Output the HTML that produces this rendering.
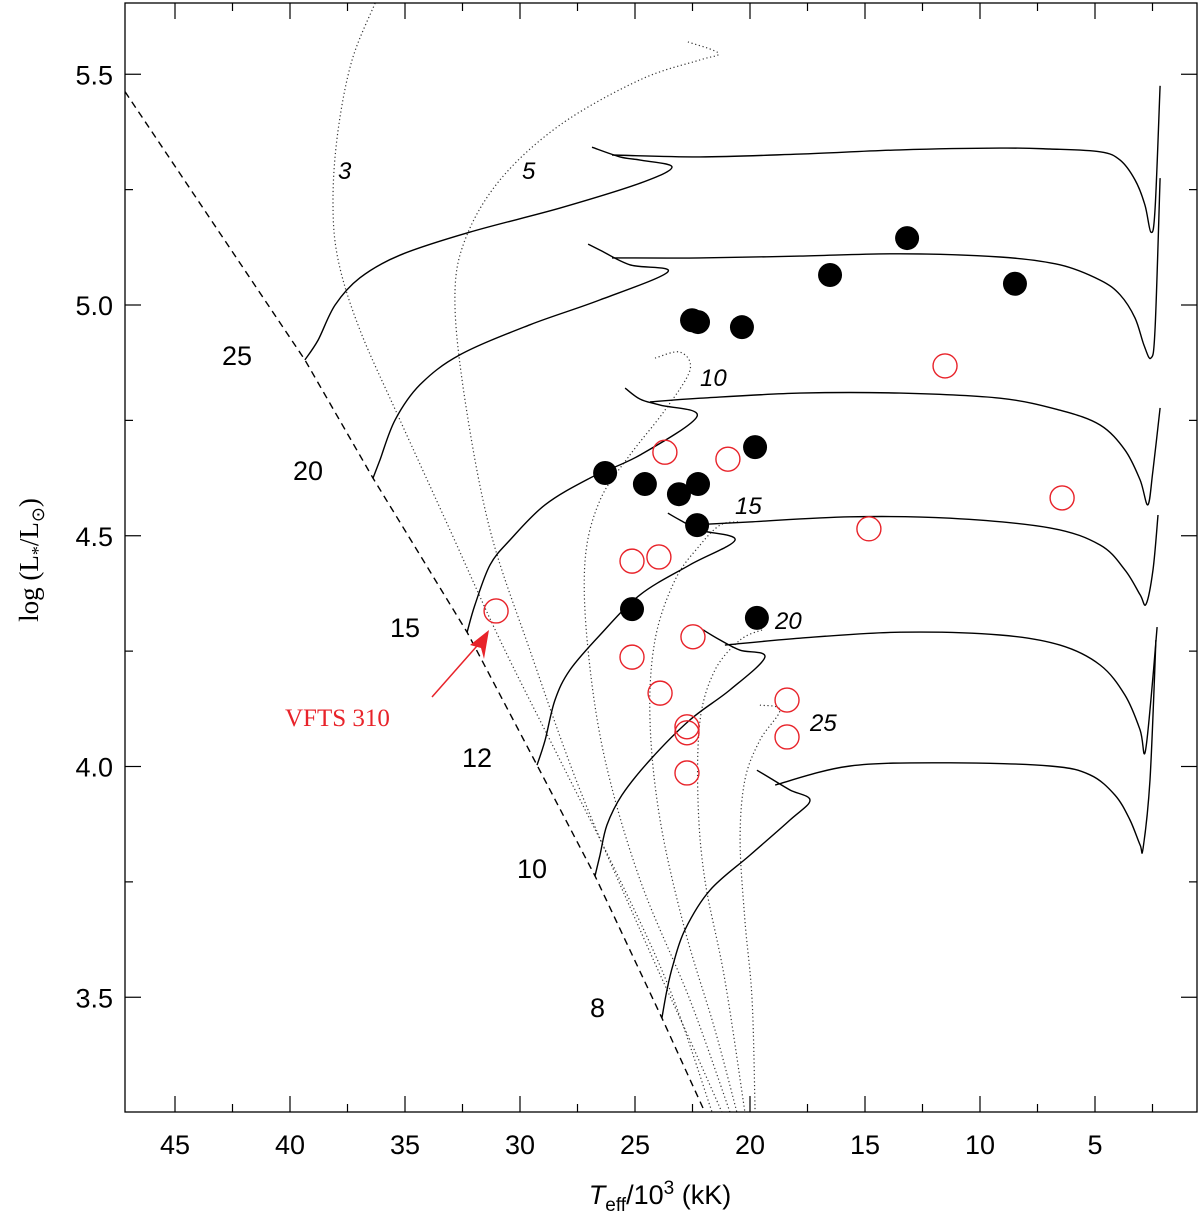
<!DOCTYPE html>
<html><head><meta charset="utf-8"><style>
body{margin:0;background:#fff}
svg{display:block;font-family:"Liberation Sans",sans-serif}
</style></head><body>
<svg id="c" width="1200" height="1225" viewBox="0 0 1200 1225">
</svg>
<script>
// ---- data ----
const xTicks=[45,40,35,30,25,20,15,10,5];
const yTicks=[3.5,4.0,4.5,5.0,5.5];
const filledT=[13.17,16.52,8.48,22.52,22.26,20.35,19.78,26.30,24.57,22.26,23.09,22.30,25.13,19.70];
const filledL=[5.145,5.065,5.046,4.967,4.963,4.952,4.692,4.636,4.612,4.612,4.590,4.523,4.341,4.322];
const openT=[11.52,23.70,20.96,6.43,14.83,25.13,23.96,31.04,22.48,25.13,23.91,18.39,22.74,22.74,18.39,22.74];
const openL=[4.868,4.681,4.666,4.582,4.515,4.445,4.454,4.337,4.281,4.237,4.159,4.144,4.086,4.073,4.064,3.986];
const zamsT=[47.17,39.35,36.39,32.30,29.26,26.74,23.83,21.96];
const zamsL=[5.462,4.881,4.625,4.291,4.003,3.763,3.455,3.251];
const trk25T=[39.35,38.78,38.04,36.96,35.22,32.17,28.26,24.78,23.39,24.78,25.65,26.87];
const trk25L=[4.881,4.924,5.0,5.059,5.108,5.158,5.210,5.264,5.299,5.314,5.321,5.342];
const trk25bT=[26.0,22.17,17.83,13.48,9.13,6.96,4.78,3.91,3.26,2.83,2.57,2.39,2.17];
const trk25bL=[5.325,5.321,5.327,5.336,5.340,5.338,5.332,5.314,5.271,5.217,5.158,5.206,5.475];
const trk20T=[36.39,36.09,35.43,34.35,32.61,29.57,26.52,23.57,25.22,26.52,27.04];
const trk20L=[4.625,4.664,4.751,4.827,4.892,4.957,5.011,5.072,5.087,5.119,5.132];
const trk20bT=[26.0,22.17,17.83,13.48,9.13,6.52,4.78,3.91,3.26,2.87,2.57,2.39,2.17];
const trk20bL=[5.102,5.102,5.106,5.111,5.104,5.087,5.054,5.022,4.972,4.913,4.885,4.946,5.275];
const trk15T=[32.30,31.96,31.30,30.43,28.91,26.96,24.78,22.30,23.91,24.78,25.43];
const trk15L=[4.291,4.350,4.437,4.491,4.567,4.625,4.675,4.759,4.783,4.796,4.820];
const trk15bT=[24.35,22.17,17.83,13.48,9.13,6.52,4.78,3.70,3.04,2.70,2.48,2.17];
const trk15bL=[4.790,4.798,4.809,4.809,4.798,4.772,4.740,4.686,4.621,4.567,4.642,4.777];
const trk12T=[29.26,28.91,28.48,27.83,26.52,24.78,22.61,20.65,22.17,23.04,23.57];
const trk12L=[4.003,4.057,4.144,4.209,4.285,4.372,4.437,4.491,4.512,4.534,4.549];
const trk12bT=[22.61,20.0,15.65,11.30,6.96,4.78,3.70,3.04,2.78,2.48,2.26];
const trk12bL=[4.523,4.530,4.541,4.538,4.517,4.480,4.426,4.372,4.352,4.426,4.545];
const trk10T=[26.74,26.52,26.22,25.57,24.35,22.61,20.87,19.35,20.43,21.30,22.04];
const trk10L=[3.763,3.808,3.873,3.938,4.014,4.101,4.166,4.237,4.252,4.274,4.296];
const trk10bT=[21.09,17.83,13.48,9.13,6.52,4.78,3.70,3.04,2.83,2.57,2.30];
const trk10bL=[4.263,4.278,4.291,4.285,4.263,4.220,4.155,4.079,4.029,4.144,4.302];
const trk8T=[23.83,23.61,23.35,22.83,21.74,20.0,18.26,17.39,18.26,19.13,19.70];
const trk8L=[3.455,3.516,3.570,3.646,3.732,3.808,3.884,3.927,3.949,3.975,3.992];
const trk8bT=[18.91,15.65,11.30,6.96,5.22,4.13,3.48,3.04,2.91,2.61,2.35];
const trk8bL=[3.960,4.001,4.008,4.001,3.982,3.938,3.884,3.830,3.823,3.971,4.274];
const iso3T=[36.30,37.30,37.91,38.13,37.91,36.96,35.22,33.04,30.87,28.26,25.65,23.48,21.65];
const iso3L=[5.654,5.531,5.379,5.228,5.098,4.946,4.751,4.512,4.274,4.014,3.754,3.516,3.251];
const iso5T=[22.70,21.65,21.39,22.17,24.78,28.26,30.87,32.39,32.83,32.39,31.30,29.57,27.39,24.78,22.61,21.22];
const iso5L=[5.570,5.553,5.542,5.531,5.488,5.390,5.271,5.141,5.011,4.794,4.512,4.252,3.949,3.646,3.407,3.251];
const iso10T=[24.13,23.04,22.61,23.70,25.22,26.52,27.17,27.04,26.30,24.78,22.61,20.87];
const iso10L=[4.885,4.898,4.859,4.772,4.675,4.577,4.447,4.252,4.014,3.754,3.494,3.251];
const iso15T=[20.52,21.30,22.17,23.26,24.13,24.35,23.91,22.83,21.52,20.57];
const iso15L=[4.530,4.523,4.480,4.404,4.274,4.101,3.884,3.646,3.429,3.251];
const iso20T=[19.48,20.43,21.52,22.17,22.26,21.96,21.09,20.22];
const iso20L=[4.296,4.274,4.209,4.101,3.927,3.754,3.537,3.251];
const iso25T=[19.57,18.70,19.57,20.22,20.43,20.22,19.91,19.78];
const iso25L=[4.133,4.122,4.057,3.971,3.841,3.667,3.494,3.251];

// ---- axes ----
const X0=125,X1=1197,Y0=3,Y1=1112;
const sx=T=>175+(45-T)*23;
const sy=L=>305-(L-5)*461.5;
const svg=document.getElementById('c');
const NS='http://www.w3.org/2000/svg';
function mk(tag,attrs,parent){const e=document.createElementNS(NS,tag);for(const k in attrs)e.setAttribute(k,attrs[k]);(parent||svg).appendChild(e);return e;}

const clip=mk('clipPath',{id:'pc'});mk('rect',{x:X0,y:Y0,width:X1-X0,height:Y1-Y0},clip);
const plot=mk('g',{'clip-path':'url(#pc)'});



function smoothPath(P){
  let d='M'+P[0][0].toFixed(1)+' '+P[0][1].toFixed(1);
  for(let i=0;i<P.length-1;i++){
    const p0=P[Math.max(0,i-1)],p1=P[i],p2=P[i+1],p3=P[Math.min(P.length-1,i+2)];
    const c1=[p1[0]+(p2[0]-p0[0])/6,p1[1]+(p2[1]-p0[1])/6];
    const c2=[p2[0]-(p3[0]-p1[0])/6,p2[1]-(p3[1]-p1[1])/6];
    d+=' C'+c1[0].toFixed(1)+' '+c1[1].toFixed(1)+' '+c2[0].toFixed(1)+' '+c2[1].toFixed(1)+' '+p2[0].toFixed(1)+' '+p2[1].toFixed(1);
  }
  return d;
}
function line(Ts,Ls,style,name,straight){
  const P=Ts.map((t,i)=>[sx(t),sy(Ls[i])]);
  const d=straight?P.map((p,i)=>(i?'L':'M')+p[0].toFixed(1)+' '+p[1].toFixed(1)).join(' '):smoothPath(P);
  const p=mk('path',Object.assign({d:d,fill:'none',stroke:'#000'},style),plot);
  
  
}
const dot={'stroke-width':1.2,'stroke-dasharray':'1.2 2.6','stroke':'#333'};
line(iso3T,iso3L,dot,'isochrone-3');
line(iso5T,iso5L,dot,'isochrone-5');
line(iso10T,iso10L,dot,'isochrone-10');
line(iso15T,iso15L,dot,'isochrone-15');
line(iso20T,iso20L,dot,'isochrone-20');
line(iso25T,iso25L,dot,'isochrone-25');
line(zamsT,zamsL,{'stroke-width':1.4,'stroke-dasharray':'7 5'},'zams-line',true);
const sol={'stroke-width':1.4};
line(trk25T,trk25L,sol,'track-25');line(trk25bT,trk25bL,sol,'track-25-post');
line(trk20T,trk20L,sol,'track-20');line(trk20bT,trk20bL,sol,'track-20-post');
line(trk15T,trk15L,sol,'track-15');line(trk15bT,trk15bL,sol,'track-15-post');
line(trk12T,trk12L,sol,'track-12');line(trk12bT,trk12bL,sol,'track-12-post');
line(trk10T,trk10L,sol,'track-10');line(trk10bT,trk10bL,sol,'track-10-post');
line(trk8T,trk8L,sol,'track-8');line(trk8bT,trk8bL,sol,'track-8-post');

for(let i=0;i<openT.length;i++){
  const c=mk('circle',{cx:sx(openT[i]),cy:sy(openL[i]),r:12,fill:'none',stroke:'#e8232a','stroke-width':1.4},plot);
  
  
}
for(let i=0;i<filledT.length;i++){
  const c=mk('circle',{cx:sx(filledT[i]),cy:sy(filledL[i]),r:12,fill:'#000'},plot);
  
  
}

// frame & ticks
const fr=mk('rect',{x:X0,y:Y0,width:X1-X0,height:Y1-Y0,fill:'none',stroke:'#000','stroke-width':1.3});


const tk=mk('g',{stroke:'#000','stroke-width':1.2});
for(let T=47.5;T>=0;T-=2.5){
  const x=sx(T);if(x<X0||x>X1)continue;
  const major=Math.abs(T%5)<0.01;const len=major?16:8;
  mk('line',{x1:x,y1:Y1,x2:x,y2:Y1-len},tk);mk('line',{x1:x,y1:Y0,x2:x,y2:Y0+len},tk);
}
for(let L=3.25;L<=5.75;L+=0.25){
  const y=sy(L);if(y<Y0||y>Y1)continue;
  const major=Math.abs((L*2)%1)<0.01;const len=major?16:8;
  mk('line',{x1:X0,y1:y,x2:X0+len,y2:y},tk);mk('line',{x1:X1,y1:y,x2:X1-len,y2:y},tk);
}
xTicks.forEach(T=>{const t=mk('text',{x:sx(T),y:1154,'font-size':27,'text-anchor':'middle',fill:'#000'});t.textContent=T;
  
  });
yTicks.forEach(L=>{const t=mk('text',{x:113,y:sy(L)+10,'font-size':27,'text-anchor':'end',fill:'#000'});t.textContent=L.toFixed(1);
  
  });
</script>
<div style="position:absolute;left:0;top:0;width:1200px;height:1225px;pointer-events:none">
<svg width="1200" height="1225" style="position:absolute;left:0;top:0">
 <g font-size="27" fill="#000" font-family="Liberation Sans, sans-serif">
  <text x="222" y="365">25</text>
  <text x="293" y="480">20</text>
  <text x="390" y="637">15</text>
  <text x="462" y="767">12</text>
  <text x="517" y="878">10</text>
  <text x="590" y="1017">8</text>
 </g>
 <g font-size="24" font-style="italic" fill="#000" font-family="Liberation Sans, sans-serif">
  <text x="338" y="179">3</text>
  <text x="522" y="179">5</text>
  <text x="700" y="386">10</text>
  <text x="735" y="514">15</text>
  <text x="775" y="629">20</text>
  <text x="810" y="731">25</text>
 </g>
 <g>
  <line x1="432" y1="697" x2="484" y2="638" stroke="#e8232a" stroke-width="1.5"/>
  <polygon points="489,630 470,645 481,648 484,659" fill="#e8232a"/>
  <text x="285" y="726" font-size="25" fill="#e8232a" font-family="Liberation Serif, serif">VFTS 310</text>
 </g>
 <text x="660" y="1204" font-size="27" text-anchor="middle" font-family="Liberation Sans, sans-serif"><tspan font-style="italic">T</tspan><tspan font-size="19" dy="7">eff</tspan><tspan dy="-7">/10</tspan><tspan font-size="19" dy="-10">3</tspan><tspan dy="10"> (kK)</tspan></text>
 <text transform="translate(38,560) rotate(-90)" font-size="27" text-anchor="middle" font-family="Liberation Serif, serif">log (L<tspan font-size="18" dy="6">*</tspan><tspan dy="-6">/L</tspan><tspan font-size="18" dy="6">⊙</tspan><tspan dy="-6">)</tspan></text>
</svg>
</div>
</body></html>
